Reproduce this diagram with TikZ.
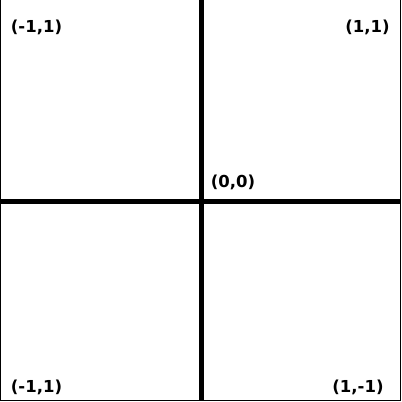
\documentclass[tikz,border=0pt]{standalone}
\usepackage{fontspec}
\newfontfamily\labelfont{DejaVu Sans}
\begin{document}
\begin{tikzpicture}[x=1bp,y=-1bp,
  lbl/.style={font=\labelfont\bfseries\fontsize{16.5bp}{19bp}\selectfont, inner sep=0pt, anchor=center},
  frame/.style={line width=1bp},
  axis/.style={line width=5bp}]
\useasboundingbox (0,0) rectangle (402,402);
\fill[white] (0,0) rectangle (402,402);
\coordinate (tl) at (0.5,0);
\coordinate (bl) at (0.5,400.5);
\coordinate (br) at (400.5,400.5);
\coordinate (tr) at (400.5,0);
\draw[frame] (tl) -- (bl) -- (br) -- (tr);
\coordinate (vt) at (201.5,0);
\coordinate (vb) at (201.5,400);
\coordinate (hl) at (0,201.5);
\coordinate (hr) at (401,201.5);
\draw[axis] (vt) -- (vb);
\draw[axis] (hl) -- (hr);
\node[lbl] (a) at (36.5,27) {(-1,1)};
\node[lbl] (b) at (367.5,27) {(1,1)};
\node[lbl] (c) at (233,182) {(0,0)};
\node[lbl] (d) at (36.5,387) {(-1,1)};
\node[lbl] (e) at (358,387) {(1,-1)};
\end{tikzpicture}
\end{document}
